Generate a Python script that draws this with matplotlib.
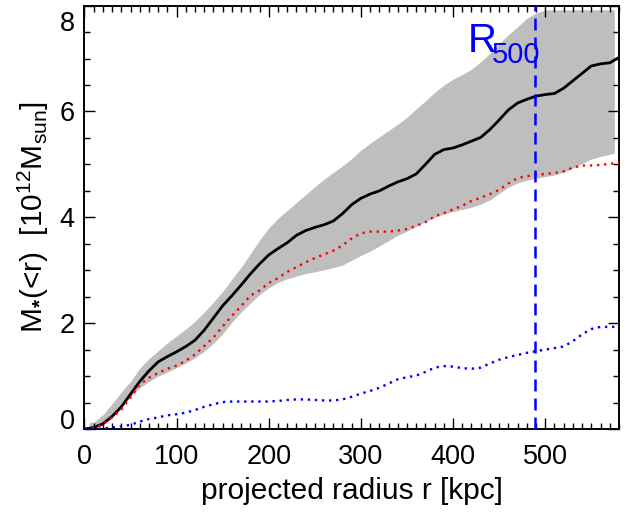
import numpy as np
import matplotlib
matplotlib.use("Agg")
import matplotlib.pyplot as plt
from matplotlib.ticker import MultipleLocator
from matplotlib.transforms import ScaledTranslation

# projected radius grid (kpc)
radius = [0, 10, 20, 30, 40, 50, 60, 70, 80, 90, 100, 110, 120, 130, 140, 150,
          160, 170, 180, 190, 200, 210, 220, 230, 240, 250, 260, 270, 280, 290,
          300, 310, 320, 330, 340, 350, 360, 370, 380, 390, 400, 410, 420, 430,
          440, 450, 460, 470, 480, 490, 500, 510, 520, 530, 540, 550, 560, 570, 580]

# total stellar mass (10^12 Msun)
mass_total = [0.00, 0.03, 0.10, 0.24, 0.42, 0.66, 0.90, 1.10, 1.27, 1.37, 1.46,
              1.56, 1.68, 1.87, 2.10, 2.33, 2.52, 2.72, 2.93, 3.12, 3.29, 3.41,
              3.52, 3.66, 3.75, 3.81, 3.86, 3.93, 4.07, 4.24, 4.36, 4.44, 4.50,
              4.59, 4.67, 4.73, 4.82, 5.00, 5.19, 5.28, 5.31, 5.37, 5.44, 5.51,
              5.66, 5.84, 6.03, 6.16, 6.23, 6.29, 6.32, 6.34, 6.44, 6.58, 6.72,
              6.86, 6.90, 6.92, 7.02]

# galaxies
mass_gal = [0.00, 0.02, 0.09, 0.22, 0.37, 0.60, 0.84, 0.97, 1.06, 1.14, 1.20,
            1.29, 1.41, 1.57, 1.73, 1.94, 2.14, 2.32, 2.52, 2.62, 2.76, 2.85,
            2.97, 3.06, 3.15, 3.23, 3.30, 3.37, 3.47, 3.60, 3.70, 3.73, 3.73,
            3.73, 3.75, 3.78, 3.84, 3.91, 4.02, 4.08, 4.15, 4.22, 4.31, 4.37,
            4.44, 4.52, 4.64, 4.74, 4.78, 4.80, 4.82, 4.84, 4.87, 4.94, 4.98,
            4.98, 4.99, 5.01, 5.03]

# diffuse light
mass_icl = [0.00, 0.00, 0.01, 0.03, 0.05, 0.08, 0.14, 0.19, 0.22, 0.26, 0.28,
            0.31, 0.36, 0.42, 0.47, 0.51, 0.52, 0.52, 0.52, 0.52, 0.52, 0.53,
            0.55, 0.56, 0.56, 0.55, 0.54, 0.54, 0.56, 0.61, 0.67, 0.72, 0.78,
            0.86, 0.94, 0.98, 1.01, 1.08, 1.16, 1.19, 1.18, 1.15, 1.14, 1.16,
            1.24, 1.31, 1.36, 1.40, 1.44, 1.47, 1.50, 1.53, 1.56, 1.66, 1.79,
            1.89, 1.93, 1.93, 1.93]

# uncertainty envelope on the total
band_r = [5, 10, 20, 30, 40, 50, 60, 70, 80, 90, 100, 110, 120, 130, 140, 150,
          160, 170, 180, 190, 200, 210, 220, 230, 240, 250, 260, 270, 280, 290,
          300, 310, 320, 330, 340, 350, 360, 370, 380, 390, 400, 410, 420, 430,
          440, 450, 460, 470, 480, 490, 500, 510, 520, 530, 540, 550, 560, 570, 575]
band_hi = [0.12, 0.13, 0.27, 0.48, 0.70, 0.90, 1.15, 1.33, 1.48, 1.63, 1.76,
           1.89, 2.04, 2.21, 2.40, 2.60, 2.83, 3.06, 3.31, 3.57, 3.80, 3.98,
           4.13, 4.28, 4.43, 4.58, 4.72, 4.85, 4.97, 5.11, 5.27, 5.40, 5.52,
           5.64, 5.76, 5.89, 6.05, 6.20, 6.36, 6.50, 6.61, 6.70, 6.80, 6.94,
           7.10, 7.28, 7.45, 7.60, 7.76, 7.86, 7.92, 7.92, 7.92, 7.92, 7.92,
           7.92, 7.92, 7.92, 7.92]
band_lo = [0.00, 0.02, 0.08, 0.22, 0.42, 0.61, 0.78, 0.90, 1.00, 1.08, 1.16,
           1.25, 1.35, 1.47, 1.62, 1.80, 2.02, 2.21, 2.38, 2.54, 2.67, 2.77,
           2.84, 2.89, 2.94, 2.97, 3.01, 3.05, 3.10, 3.19, 3.28, 3.36, 3.46,
           3.56, 3.66, 3.74, 3.83, 3.92, 4.00, 4.06, 4.11, 4.15, 4.19, 4.25,
           4.33, 4.45, 4.57, 4.65, 4.70, 4.74, 4.77, 4.80, 4.85, 4.93, 5.02,
           5.10, 5.15, 5.19, 5.21]

r500 = 489

plt.rcParams["font.family"] = ["Liberation Sans", "DejaVu Sans"]
plt.rcParams["mathtext.fontset"] = "custom"
plt.rcParams["mathtext.rm"] = "Liberation Sans"
plt.rcParams["mathtext.it"] = "Liberation Sans"
plt.rcParams["mathtext.bf"] = "Liberation Sans:bold"

fig = plt.figure(figsize=(6.29, 5.12), dpi=100)
ax = fig.add_axes([0.1343, 0.162, 0.8497, 0.827])

ax.fill_between(band_r, band_lo, band_hi, color="#bebebe", lw=0, zorder=1)
ax.plot(radius, mass_total, color="black", lw=2.0, zorder=3)
ax.plot(radius, mass_gal, color="red", lw=1.7, ls=(0, (1.0, 2.0)), zorder=3)
ax.plot(radius, mass_icl, color="blue", lw=1.7, ls=(0, (1.0, 2.0)), zorder=3)
ax.axvline(r500, color="blue", lw=1.8, ls=(0, (4.8, 2.8)), zorder=4)

# R500 label: big R with a large subscript
ax.text(416, 7.13, "R", color="blue", fontsize=29, ha="left", va="baseline",
        zorder=5)
ax.text(442, 6.92, "500", color="blue", fontsize=21, ha="left",
        va="baseline", zorder=5)

ax.set_xlim(0, 580)
ax.set_ylim(0, 8)
ax.xaxis.set_major_locator(MultipleLocator(100))
ax.xaxis.set_minor_locator(MultipleLocator(10))
ax.yaxis.set_major_locator(MultipleLocator(2))
ax.yaxis.set_minor_locator(MultipleLocator(0.5))
ax.tick_params(which="both", direction="in", top=True, right=True, width=1.0,
               labelsize=19.5)
ax.tick_params(which="major", length=8)
ax.tick_params(which="minor", length=4.5)
ax.tick_params(axis="x", pad=11)
ax.tick_params(axis="y", pad=7)
for s in ax.spines.values():
    s.set_linewidth(1.4)

fig.canvas.draw()
# keep the end labels of the y axis inside the frame
for lab in ax.get_yticklabels():
    if lab.get_text() == "8":
        lab.set_va("top")
        lab.set_transform(lab.get_transform() +
                          ScaledTranslation(0, -4 / 72, fig.dpi_scale_trans))
    elif lab.get_text() == "0":
        lab.set_va("bottom")
        lab.set_transform(lab.get_transform() +
                          ScaledTranslation(0, -4 / 72, fig.dpi_scale_trans))

ax.set_xlabel("projected radius r [kpc]", fontsize=21.5, labelpad=5)
ax.set_ylabel(r"M$_{\mathbf{*}}$(<r)  [10$^{12}$M$_{\rm sun}$]", fontsize=21.5,
              labelpad=6)

fig.savefig("out.png", dpi=100)
